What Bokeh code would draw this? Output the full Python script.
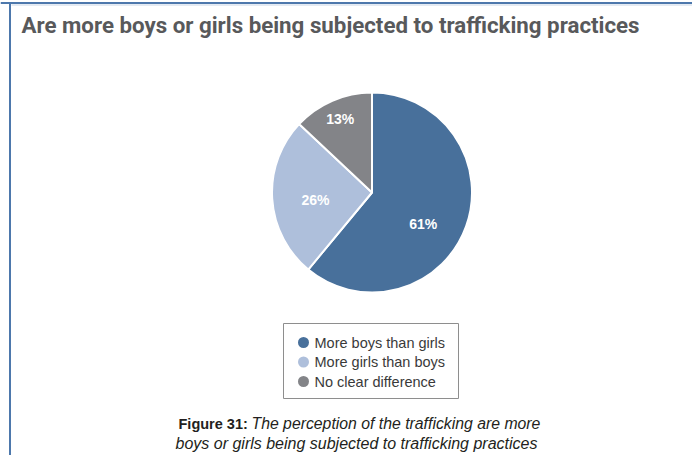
import math
from bokeh.plotting import figure
from bokeh.models import Range1d, ColumnDataSource
from bokeh.core.properties import value
from bokeh.embed import file_html
from bokeh.resources import INLINE

# ---- data ----
categories = ["More boys than girls", "More girls than boys", "No clear difference"]
shares = [61, 26, 13]
colors = ["#48709B", "#AEBFDB", "#838488"]
title_text = "Are more boys or girls being subjected to trafficking practices"
caption_bold = "Figure 31:"
caption_line1 = "The perception of the trafficking are more"
caption_line2 = "boys or girls being subjected to trafficking practices"

# ---- styles / layout ----
W, H = 692, 455
label_radius = [0.60, 0.57, 0.80]
label_angle_shift = [0.2, -0.07, 0.0]  # radians, clockwise positive

def py(ref_y):
    return H - ref_y

def px(ref_x):
    return ref_x

p = figure(width=W, height=H, x_range=Range1d(0, W), y_range=Range1d(0, H),
           output_backend="svg", toolbar_location=None, min_border=0)
p.axis.visible = False
p.grid.visible = False
p.outline_line_color = None
p.background_fill_color = "white"

# frame lines
p.line(x=[0, W], y=[py(2.5), py(2.5)], line_color="#4D78AC", line_width=2)
p.line(x=[px(11), W], y=[py(4.5), py(4.5)], line_color="#C9D6E6", line_width=1)
p.line(x=[px(9.5), px(9.5)], y=[0, py(2)], line_color="#4D78AC", line_width=2)

# title
p.text(x=[px(21)], y=[py(24)], text=[title_text], text_font=value("Roboto"),
       text_font_style="bold", text_font_size="22.3px", text_color="#58595B",
       text_baseline="middle", text_align="left")

# pie
cx, cy, r = px(371.5), py(192), 100
total = sum(shares)
starts, ends, lx, ly, labels = [], [], [], [], []
cum = 0.0
for i, s in enumerate(shares):
    a0 = math.pi / 2 - 2 * math.pi * (cum + s) / total
    a1 = math.pi / 2 - 2 * math.pi * cum / total
    starts.append(a0)
    ends.append(a1)
    mid = (a0 + a1) / 2 - label_angle_shift[i]
    lx.append(cx + r * label_radius[i] * math.cos(mid))
    ly.append(cy + r * label_radius[i] * math.sin(mid))
    labels.append(f"{s}%")
    cum += s

src = ColumnDataSource(dict(start=starts, end=ends, color=colors))
p.wedge(x=cx, y=cy, radius=r, start_angle="start", end_angle="end", fill_color="color",
        line_color="white", line_width=2, source=src)
p.text(x=lx, y=ly, text=labels, text_font=value("Liberation Sans"), text_font_style="bold",
       text_font_size="14px", text_color="white", text_align="center", text_baseline="middle")

# legend box
p.quad(left=px(283), right=px(458), bottom=py(398), top=py(323), fill_color="white",
       line_color="#8E8E8E", line_width=1)
row_y = [py(342 + 19.5 * i) for i in range(len(categories))]
p.scatter(x=[px(303)] * len(categories), y=row_y, size=11, fill_color=colors, line_color=None)
p.text(x=[px(314)] * len(categories), y=row_y, text=categories, text_font=value("Liberation Sans"),
       text_font_size="14.5px", text_color="#3A3A3A", text_align="left", text_baseline="middle")

# caption
p.text(x=[px(178)], y=[py(423)], text=[caption_bold], text_font=value("Liberation Sans"),
       text_font_style="bold", text_font_size="14.5px", text_color="#231F20",
       text_align="left", text_baseline="middle")
p.text(x=[px(251)], y=[py(423)], text=[caption_line1], text_font=value("Liberation Sans"),
       text_font_style="italic", text_font_size="15.8px", text_color="#231F20",
       text_align="left", text_baseline="middle")
p.text(x=[px(356)], y=[py(443)], text=[caption_line2], text_font=value("Liberation Sans"),
       text_font_style="italic", text_font_size="16px", text_color="#231F20",
       text_align="center", text_baseline="middle")

open("out.html", "w").write(file_html(p, INLINE))
